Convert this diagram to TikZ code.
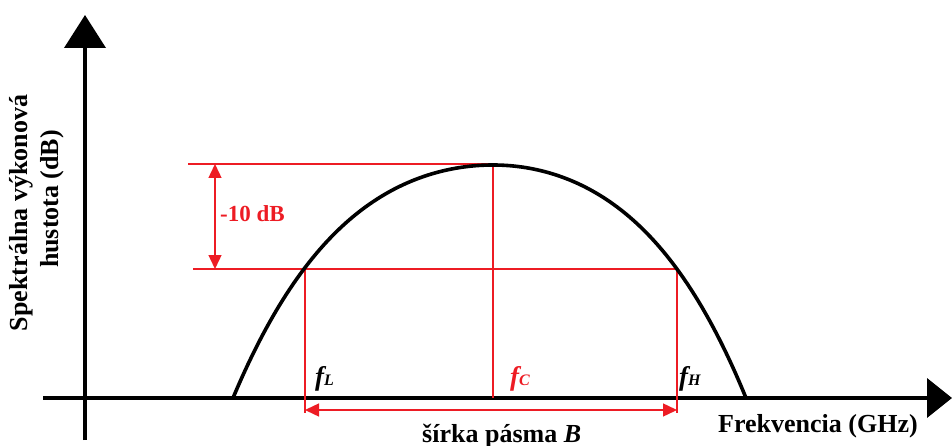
\documentclass[tikz,border=0pt]{standalone}
\usepackage{fontspec}
\setmainfont{Liberation Serif}
\usetikzlibrary{arrows.meta}
\definecolor{myred}{RGB}{237,28,36}
\tikzset{
  axis/.style={line width=4pt},
  curve/.style={line width=3.6pt, line join=round},
  redline/.style={draw=myred, line width=1.4pt},
  redarrow/.style={redline, {Triangle[length=14pt,width=13pt]}-{Triangle[length=14pt,width=13pt]}},
  lbl/.style={inner sep=0pt, anchor=base west},
  flbl/.style={lbl, font=\bfseries\fontsize{27}{30}\selectfont},
}
\newcommand{\subtxt}[1]{{\fontsize{16}{18}\selectfont #1}}
\begin{document}
\begin{tikzpicture}[x=1pt,y=-1pt,font=\bfseries\fontsize{26}{30}\selectfont]
\useasboundingbox (0,0) rectangle (952,446);
% axes
\coordinate (yb) at (85,440);
\coordinate (yt) at (85,15);
\coordinate (xl) at (43,398);
\coordinate (xr) at (952,398);
\draw[axis,-{Triangle[length=33pt,width=41pt]}] (yb) -- (yt);
\draw[axis,-{Triangle[length=25pt,width=39pt]}] (xl) -- (xr);
% red guides
\coordinate (t1) at (188,164);
\coordinate (pk) at (493,164);
\coordinate (l1) at (193,269);
\coordinate (fl) at (305,269);
\coordinate (fh) at (677,269);
\coordinate (flb) at (305,413);
\coordinate (fhb) at (677,413);
\coordinate (fcb) at (493,398);
\coordinate (va) at (215,164);
\coordinate (vb) at (215,269);
\coordinate (ha) at (305,410);
\coordinate (hb) at (677,410);
\draw[redline] (t1) -- (pk);
\draw[redline] (l1) -- (fh);
\draw[redline] (fl) -- (flb);
\draw[redline] (fh) -- (fhb);
\draw[redline] (pk) -- (fcb);
\draw[redarrow] (va) -- (vb);
\draw[redarrow] (ha) -- (hb);
% curve
\draw[curve] plot[domain=-260:0, samples=70] ({493+\x},{165+233*(0.67*(\x/260)^2+0.33*(\x/260)^4)})
  -- plot[domain=0:253, samples=70] ({493+\x},{165+233*(0.67*(\x/253)^2+0.33*(\x/253)^4)});
% labels
\node[lbl, text=myred, font=\bfseries\fontsize{23}{26}\selectfont] (db) at (220,222) {-10 dB};
\node[flbl] (nfl) at (315,385) {\itshape f\subtxt{L}};
\node[flbl, text=myred] (nfc) at (510,385) {\itshape f\subtxt{C}};
\node[flbl] (nfh) at (679,385) {\itshape f\subtxt{H}};
\node[lbl] (freq) at (718,432) {Frekvencia (GHz)};
\node[lbl] (bw) at (422,442) {šírka pásma \textit{B}};
\node[inner sep=0pt, rotate=90] (yl1) at (21,213) {Spektrálna výkonová};
\node[inner sep=0pt, rotate=90] (yl2) at (52,199) {hustota (dB)};
\end{tikzpicture}
\end{document}
